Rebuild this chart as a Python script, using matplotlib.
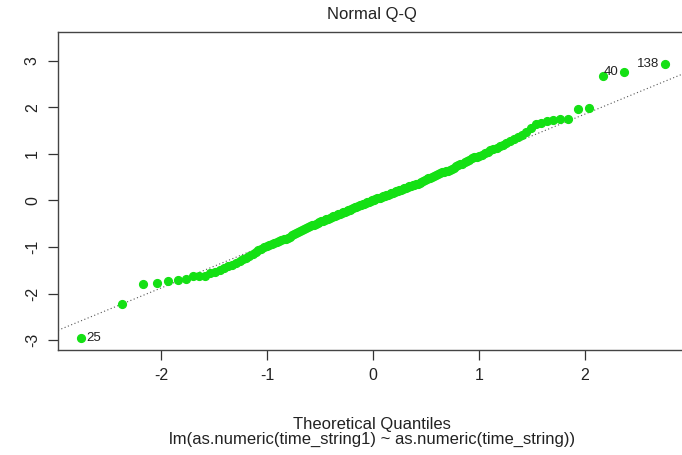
import matplotlib
matplotlib.use('Agg')
import matplotlib.pyplot as plt
import numpy as np
from statistics import NormalDist

# sorted standardized residuals
std_resid = [
    -2.96, -2.23, -1.79, -1.77, -1.74, -1.72, -1.68, -1.63, -1.63, -1.62,
    -1.57, -1.53, -1.49, -1.45, -1.41, -1.38, -1.34, -1.31, -1.27, -1.23,
    -1.19, -1.15, -1.11, -1.07, -1.04, -1.01, -0.98, -0.96, -0.94, -0.92,
    -0.90, -0.88, -0.86, -0.84, -0.82, -0.80, -0.78, -0.75, -0.72, -0.70,
    -0.68, -0.66, -0.64, -0.62, -0.60, -0.58, -0.56, -0.54, -0.52, -0.50,
    -0.49, -0.47, -0.45, -0.44, -0.42, -0.41, -0.39, -0.37, -0.35, -0.34,
    -0.33, -0.31, -0.30, -0.29, -0.27, -0.26, -0.24, -0.23, -0.21, -0.20,
    -0.18, -0.17, -0.15, -0.14, -0.12, -0.11, -0.09, -0.08, -0.07, -0.05,
    -0.04, -0.03, -0.02, 0.00,
    0.01, 0.02, 0.04, 0.05, 0.06, 0.07, 0.09, 0.10, 0.11, 0.12,
    0.14, 0.15, 0.16, 0.18, 0.19, 0.21, 0.22, 0.23, 0.25, 0.26,
    0.27, 0.28, 0.30, 0.31, 0.32, 0.34, 0.35, 0.36, 0.37, 0.39,
    0.41, 0.43, 0.45, 0.47, 0.49, 0.51, 0.53, 0.55, 0.57, 0.58,
    0.60, 0.61, 0.63, 0.64, 0.66, 0.68, 0.70, 0.73, 0.75, 0.77,
    0.79, 0.82, 0.85, 0.87, 0.90, 0.92, 0.94, 0.96, 0.98, 1.01,
    1.04, 1.07, 1.10, 1.13, 1.16, 1.19, 1.23, 1.27, 1.32, 1.36,
    1.41, 1.46, 1.55, 1.63, 1.67, 1.70, 1.72, 1.74, 1.75, 1.97,
    1.99, 2.68, 2.75, 2.92,
]
# labelled observations (position in sorted order, observation number)
label_pos = [0, 166, 167]
label_txt = ['25', '40', '138']

y = np.array(std_resid)
n = len(y)
x = np.array([NormalDist().inv_cdf((i + 0.5) / n) for i in range(n)])

plt.rcParams['font.family'] = ['Liberation Sans', 'DejaVu Sans']
fig = plt.figure(figsize=(6.82, 4.55), dpi=100)
fig.patch.set_facecolor('white')
ax = fig.add_axes([58 / 682, 1 - 350 / 455, 630 / 682, 318 / 455])

# R-style limits
xr = x.max() - x.min()
ax.set_xlim(x.min() - 0.04 * xr, x.max() + 0.04 * xr)
ylo, yhi = y.min(), y.max()
yhi = yhi + 0.075 * (yhi - ylo)
yr = yhi - ylo
ax.set_ylim(ylo - 0.04 * yr, yhi + 0.04 * yr)

# qqline through the quartiles
q_y = np.quantile(y, [0.25, 0.75])
q_x = np.array([NormalDist().inv_cdf(0.25), NormalDist().inv_cdf(0.75)])
slope = (q_y[1] - q_y[0]) / (q_x[1] - q_x[0])
icpt = q_y[0] - slope * q_x[0]
xl = np.array(ax.get_xlim())
ax.plot(xl, icpt + slope * xl, color='#555555', lw=0.8, ls=(0, (1, 2.2)), zorder=1)

ax.plot(x, y, 'o', color='#14e014', ms=5.6, mec='#14e014', zorder=2)

for p, t in zip(label_pos, label_txt):
    if x[p] < 0:
        ax.annotate(t, (x[p], y[p]), xytext=(3.5, 0), textcoords='offset points',
                    ha='left', va='center', fontsize=9.5, color='#222222')
    else:
        ax.annotate(t, (x[p], y[p]), xytext=(-4, 0), textcoords='offset points',
                    ha='right', va='center', fontsize=9.5, color='#222222')

ax.set_xticks([-2, -1, 0, 1, 2])
ax.set_xticklabels(['-2', '-1', '0', '1', '2'])
ax.set_yticks([-3, -2, -1, 0, 1, 2, 3])
ax.set_yticklabels(['-3', '-2', '-1', '0', '1', '2', '3'])
ax.tick_params(length=7, width=0.9, color='#333333', labelsize=11.5,
               labelcolor='#222222', pad=6)
ax.tick_params(axis='y', labelrotation=90)
for lab in ax.get_yticklabels():
    lab.set_va('center')
for s in ax.spines.values():
    s.set_color('#444444')
    s.set_linewidth(1.0)

fig.text(372 / 682, 1 - 15 / 455, 'Normal Q-Q', ha='center', va='center',
         fontsize=12, color='#222222')
fig.text(372 / 682, 1 - 424 / 455, 'Theoretical Quantiles', ha='center', va='center',
         fontsize=12, color='#222222')
fig.text(372 / 682, 1 - 439 / 455, 'lm(as.numeric(time_string1) ~ as.numeric(time_string))',
         ha='center', va='center', fontsize=12, color='#222222')

fig.savefig('out.png', dpi=100, facecolor='white')
